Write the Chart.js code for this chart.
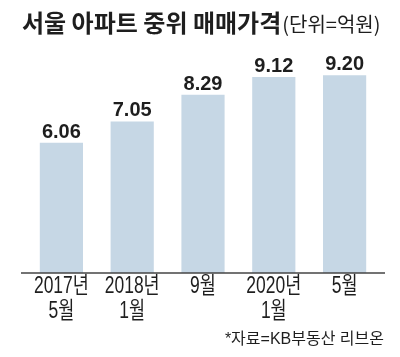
<!DOCTYPE html>
<html><head><meta charset="utf-8">
<script src="https://cdn.jsdelivr.net/npm/chart.js@4"></script>
<style>html,body{margin:0;padding:0;background:#fff}#w{width:400px;height:357px;position:relative}</style>
</head><body><div id="w"><canvas id="c" width="400" height="357"></canvas></div>
<script>
const titleMain = '서울 아파트 중위 매매가격';
const titleUnit = '(단위=억원)';
const sourceNote = '*자료=KB부동산 리브온';
const categories = [['2017년','5월'],['2018년','1월'],['9월'],['2020년','1월'],['5월']];
const prices = [6.06, 7.05, 8.29, 9.12, 9.20];
const yMin = 0, yMax = 10;

const CJK = "'Noto Sans CJK KR', sans-serif";
const SANS = "'Liberation Sans', Arial, " + CJK;
const TICK_SX = 0.76;

const deco = {
  id: 'deco',
  afterLayout(chart) {
    const s = chart.scales.x;
    if (s._condensed) return;
    s._condensed = true;
    const orig = s.drawLabels;
    s.drawLabels = function(area) {
      const ctx = this.ctx;
      const f = CanvasRenderingContext2D.prototype.fillText;
      ctx.fillText = function(t, x, y) {
        this.save();
        this.scale(TICK_SX, 1);
        f.call(this, t, x / TICK_SX, y);
        this.restore();
      };
      try { orig.call(this, area); } finally { delete ctx.fillText; }
    };
  },
  afterDatasetsDraw(chart) {
    const ctx = chart.ctx;
    const meta = chart.getDatasetMeta(0);
    ctx.save();
    ctx.fillStyle = '#1e1e1e';
    ctx.font = "bold 20px " + SANS;
    ctx.textAlign = 'center';
    ctx.textBaseline = 'alphabetic';
    meta.data.forEach((bar, i) => {
      ctx.fillText(prices[i].toFixed(2), bar.x, bar.y - 5);
    });
    const y0 = chart.scales.y.getPixelForValue(0);
    ctx.strokeStyle = '#444';
    ctx.lineWidth = 1.5;
    ctx.beginPath();
    ctx.moveTo(21, y0);
    ctx.lineTo(385, y0);
    ctx.stroke();
    ctx.restore();
  },
  afterDraw(chart) {
    const ctx = chart.ctx;
    ctx.save();
    ctx.fillStyle = '#1e1e1e';
    ctx.textBaseline = 'alphabetic';
    ctx.textAlign = 'left';
    ctx.font = "bold 24px " + CJK;
    ctx.fillText(titleMain, 22, 32);
    const w = ctx.measureText(titleMain).width;
    ctx.font = "20px " + CJK;
    ctx.fillText(titleUnit, 22 + w + 1, 32);
    ctx.textAlign = 'right';
    ctx.font = "16px " + SANS;
    ctx.fillText(sourceNote, 384, 344);
    ctx.restore();
  }
};

new Chart(document.getElementById('c'), {
  type: 'bar',
  data: {
    labels: categories,
    datasets: [{
      data: prices,
      backgroundColor: '#c6d7e5',
      borderWidth: 0,
      categoryPercentage: 1,
      barPercentage: 0.61
    }]
  },
  options: {
    responsive: false,
    animation: false,
    events: [],
    layout: { padding: { top: 58, left: 26, right: 20, bottom: 0 } },
    plugins: { legend: { display: false }, tooltip: { enabled: false } },
    scales: {
      x: {
        grid: { display: false, drawTicks: false },
        border: { display: false },
        ticks: {
          color: '#1e1e1e',
          padding: 1,
          maxRotation: 0,
          autoSkip: false,
          font: { family: SANS, size: 23, lineHeight: 1.09 }
        },
        afterFit(s) { s.height = 84; }
      },
      y: {
        display: false,
        min: yMin,
        max: yMax
      }
    }
  },
  plugins: [deco]
});
</script></body></html>
